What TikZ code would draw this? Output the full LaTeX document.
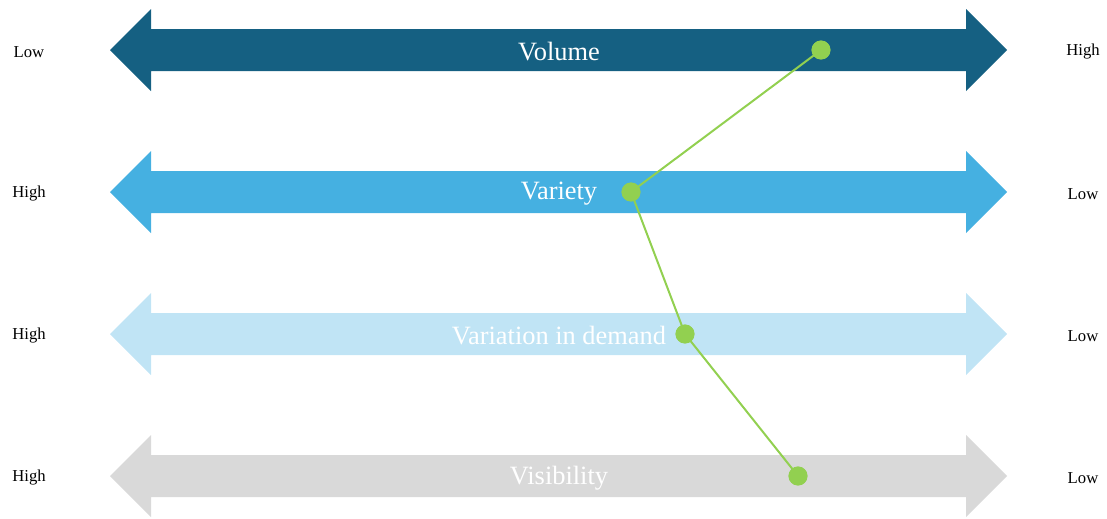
\documentclass[tikz,border=0pt]{standalone}
\usepackage{fontspec}
\setmainfont{Liberation Serif}
\definecolor{volc}{HTML}{156082}
\definecolor{varc}{HTML}{45B0E1}
\definecolor{demc}{HTML}{C0E4F5}
\definecolor{visc}{HTML}{D9D9D9}
\definecolor{dotc}{HTML}{92D050}
\tikzset{
  endlabel/.style={font=\fontsize{12.5}{14}\selectfont, text=black},
  barlabel/.style={font=\fontsize{19.8}{22}\selectfont, text=white},
  marker/.style={circle, fill=dotc, inner sep=0pt, minimum size=14.2pt},
  link/.style={draw=dotc, line width=1.5pt}
}
% double-headed bar centred at height #1, filled with colour #2
\newcommand{\dblbar}[2]{%
  \fill[#2] (110,#1) -- (151,#1-41) -- (151,#1-21) -- (966,#1-21) -- (966,#1-41)
    -- (1007,#1) -- (966,#1+41) -- (966,#1+21) -- (151,#1+21) -- (151,#1+41) -- cycle;}
\begin{document}
\begin{tikzpicture}[x=0.75pt,y=-0.75pt]
\useasboundingbox (0,0) rectangle (1107,518);
\dblbar{50}{volc}
\dblbar{192}{varc}
\dblbar{334}{demc}
\dblbar{476}{visc}
\node[barlabel] (t1) at (559,52) {Volume};
\node[barlabel] (t2) at (559,194) {Variety};
\node[barlabel] (t3) at (559,336) {Variation in demand};
\node[barlabel] (t4) at (559,478) {Visibility};
\node[endlabel] (l1) at (29,52) {Low};
\node[endlabel] (r1) at (1083,52) {High};
\node[endlabel] (l2) at (29,194) {High};
\node[endlabel] (r2) at (1083,194) {Low};
\node[endlabel] (l3) at (29,336) {High};
\node[endlabel] (r3) at (1083,336) {Low};
\node[endlabel] (l4) at (29,478) {High};
\node[endlabel] (r4) at (1083,478) {Low};
\node[marker] (p1) at (821,50) {};
\node[marker] (p2) at (631,192) {};
\node[marker] (p3) at (685,334) {};
\node[marker] (p4) at (798,476) {};
\draw[link] (p1.center) -- (p2.center) -- (p3.center) -- (p4.center);
\node[marker] at (p1) {};
\node[marker] at (p2) {};
\node[marker] at (p3) {};
\node[marker] at (p4) {};
\end{tikzpicture}
\end{document}
